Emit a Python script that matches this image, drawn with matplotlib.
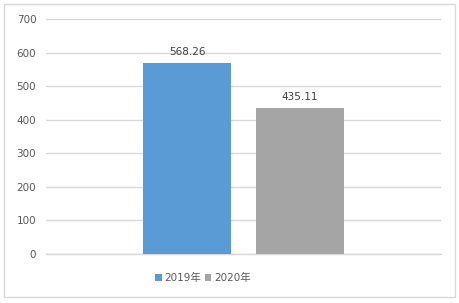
import matplotlib
matplotlib.use("Agg")
import matplotlib.pyplot as plt
from matplotlib.patches import Rectangle, Patch

plt.rcParams['font.family'] = ['DejaVu Sans', 'Noto Sans CJK SC']

# data
series = ["2019年", "2020年"]
values = [568.26, 435.11]
colors = ["#5B9BD5", "#A5A5A5"]
yticks = [0, 100, 200, 300, 400, 500, 600, 700]

fig = plt.figure(figsize=(4.59, 3.03), dpi=100)
ax = fig.add_axes([46/459, 1 - 254/303, (441 - 46)/459, (254 - 19)/303])

# outer border like the excel chart area
fig.patches.append(Rectangle((4/459, 1 - 297/303), 451/459, 293/303,
                             transform=fig.transFigure, fill=False,
                             edgecolor="#D9D9D9", linewidth=1))

bars = ax.bar(range(len(values)), values, width=0.786, color=colors, zorder=3)
for i, v in enumerate(values):
    ax.text(i, v + 18, f"{v:.2f}", ha="center", va="bottom",
            fontsize=7.5, color="#404040")

ax.set_ylim(0, 700)
ax.set_xlim(-1.259, 2.259)
ax.set_yticks(yticks)
ax.set_xticks([])
ax.grid(axis="y", color="#D9D9D9", linewidth=1, zorder=0)
ax.axhline(0, color="#D9D9D9", linewidth=1, zorder=2, clip_on=False)
for s in ax.spines.values():
    s.set_visible(False)
ax.tick_params(axis="y", length=0, labelsize=7.5, labelcolor="#595959", pad=7)

handles = [Patch(facecolor=c, label=s) for s, c in zip(series, colors)]
fig.legend(handles=handles, loc="center", bbox_to_anchor=(203/459, 1 - 278/303),
           ncol=2, frameon=False, fontsize=7.5, handlelength=0.6, handleheight=0.6,
           handletextpad=0.3, columnspacing=0.3, labelcolor="#595959")

fig.savefig("out.png", dpi=100)
